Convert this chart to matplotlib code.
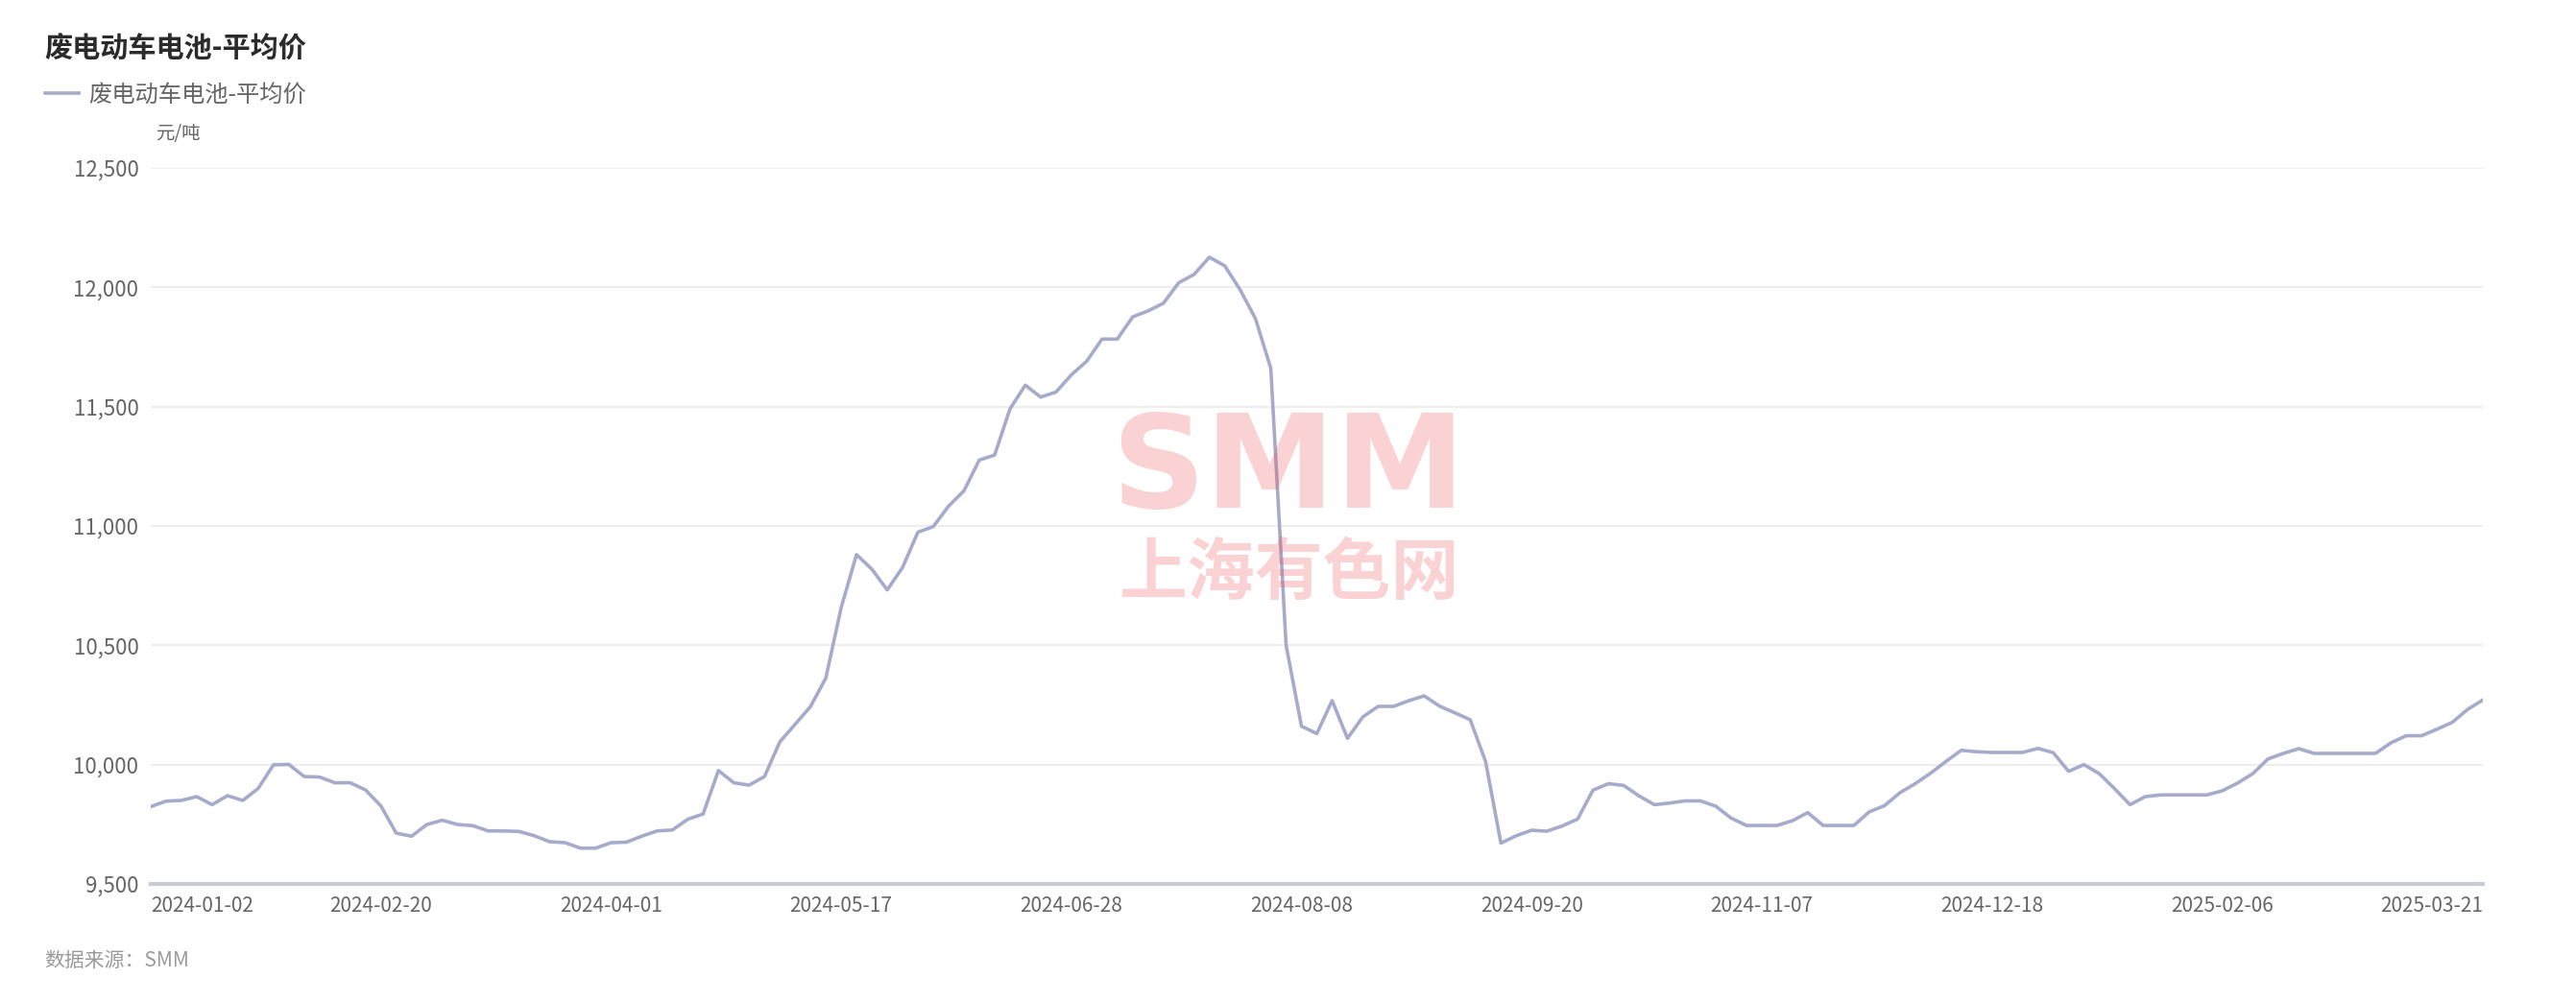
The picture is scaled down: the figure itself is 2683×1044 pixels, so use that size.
import matplotlib
matplotlib.use("Agg")
import matplotlib.pyplot as plt
from matplotlib.ticker import StrMethodFormatter

plt.rcParams["font.family"] = ["Noto Sans CJK SC", "DejaVu Sans"]
plt.rcParams["axes.unicode_minus"] = False

TITLE = "废电动车电池-平均价"
SERIES = "废电动车电池-平均价"
UNIT = "元/吨"
SOURCE = "数据来源：SMM"

# 约每两个交易日取一个点, 读自原图 (元/吨)
price = [
    9824, 9847, 9850, 9866, 9832, 9870, 9850, 9900, 9999, 10001,
    9950, 9948, 9924, 9924, 9894, 9827, 9713, 9700, 9749, 9767,
    9749, 9744, 9722, 9722, 9720, 9702, 9677, 9673, 9650, 9650,
    9673, 9675, 9700, 9722, 9726, 9771, 9793, 9975, 9924, 9914,
    9950, 10095, 10169, 10243, 10363, 10658, 10880, 10819, 10732, 10826,
    10974, 10997, 11083, 11147, 11276, 11297, 11490, 11590, 11540, 11561,
    11633, 11690, 11783, 11783, 11876, 11901, 11933, 12019, 12054, 12126,
    12090, 11990, 11869, 11661, 10500, 10161, 10130, 10268, 10110, 10200,
    10244, 10244, 10268, 10288, 10245, 10217, 10188, 10013, 9671, 9702,
    9725, 9721, 9743, 9772, 9893, 9920, 9913, 9869, 9832, 9839,
    9848, 9848, 9826, 9776, 9745, 9745, 9745, 9765, 9799, 9745,
    9745, 9745, 9802, 9828, 9882, 9920, 9964, 10013, 10060, 10054,
    10051, 10051, 10051, 10068, 10050, 9972, 10000, 9962, 9899, 9832,
    9866, 9873, 9873, 9873, 9873, 9890, 9922, 9962, 10024, 10047,
    10067, 10047, 10047, 10047, 10047, 10047, 10091, 10121, 10121, 10148,
    10177, 10231, 10271,
]

tick_idx = [0, 15, 30, 45, 60, 75, 90, 105, 120, 135, 152]
tick_labels = ["2024-01-02", "2024-02-20", "2024-04-01", "2024-05-17", "2024-06-28",
               "2024-08-08", "2024-09-20", "2024-11-07", "2024-12-18", "2025-02-06",
               "2025-03-21"]
y_ticks = [9500, 10000, 10500, 11000, 11500, 12000, 12500]

LINE_COLOR = "#a6abcb"
W, H = 2683, 1044

fig = plt.figure(figsize=(W / 100, H / 100), dpi=100)
ax = fig.add_axes([157 / W, 1 - 921 / H, (2586 - 157) / W, (921 - 175) / H])

x = list(range(len(price)))
line, = ax.plot(x, price, color=LINE_COLOR, lw=2.6, label=SERIES, zorder=3)

ax.set_xlim(0, len(price) - 1)
ax.set_ylim(9500, 12500)
ax.set_yticks(y_ticks)
ax.yaxis.set_major_formatter(StrMethodFormatter("{x:,.0f}"))
ax.set_xticks(tick_idx)
ax.set_xticklabels(tick_labels)
xl = ax.get_xticklabels()
xl[0].set_ha("left")
xl[-1].set_ha("right")

ax.grid(axis="y", color="#eeeeee", lw=1.6, zorder=0)
for s in ["top", "right", "left"]:
    ax.spines[s].set_visible(False)
ax.spines["bottom"].set_color("#c9cbd3")
ax.spines["bottom"].set_linewidth(3)
ax.tick_params(length=0, labelcolor="#666666")
ax.tick_params(axis="y", pad=9, labelsize=16)
ax.tick_params(axis="x", pad=9, labelsize=15)

# 水印 (两段文字上下分开, 避免重叠)
fig.text(1342 / W, 1 - 529 / H, "SMM", fontsize=98, fontweight="bold",
         family=["DejaVu Sans"], color=(0.95, 0.3, 0.33), alpha=0.25,
         ha="center", va="baseline", zorder=5)
fig.text(1343 / W, 1 - 598 / H, "上海有色网", fontsize=51, fontweight="bold",
         color=(0.95, 0.3, 0.33), alpha=0.25, ha="center", va="center", zorder=5)

fig.text(46 / W, 1 - 51 / H, TITLE, fontsize=21, fontweight="bold",
         color="#2b2b2b", ha="left", va="center")
fig.legend(handles=[line], loc="center left", bbox_to_anchor=(47 / W, 1 - 99 / H),
           frameon=False, fontsize=17.5, handlelength=1.45, handletextpad=0.42,
           borderpad=0, borderaxespad=0, labelcolor="#666666")
fig.text(185 / W, 1 - 140 / H, UNIT, fontsize=14, color="#666666",
         ha="center", va="center")
fig.text(46 / W, 1 - 1001 / H, SOURCE, fontsize=15, color="#9a9a9a",
         style="italic", ha="left", va="center")

fig.savefig("out.png", dpi=100)
